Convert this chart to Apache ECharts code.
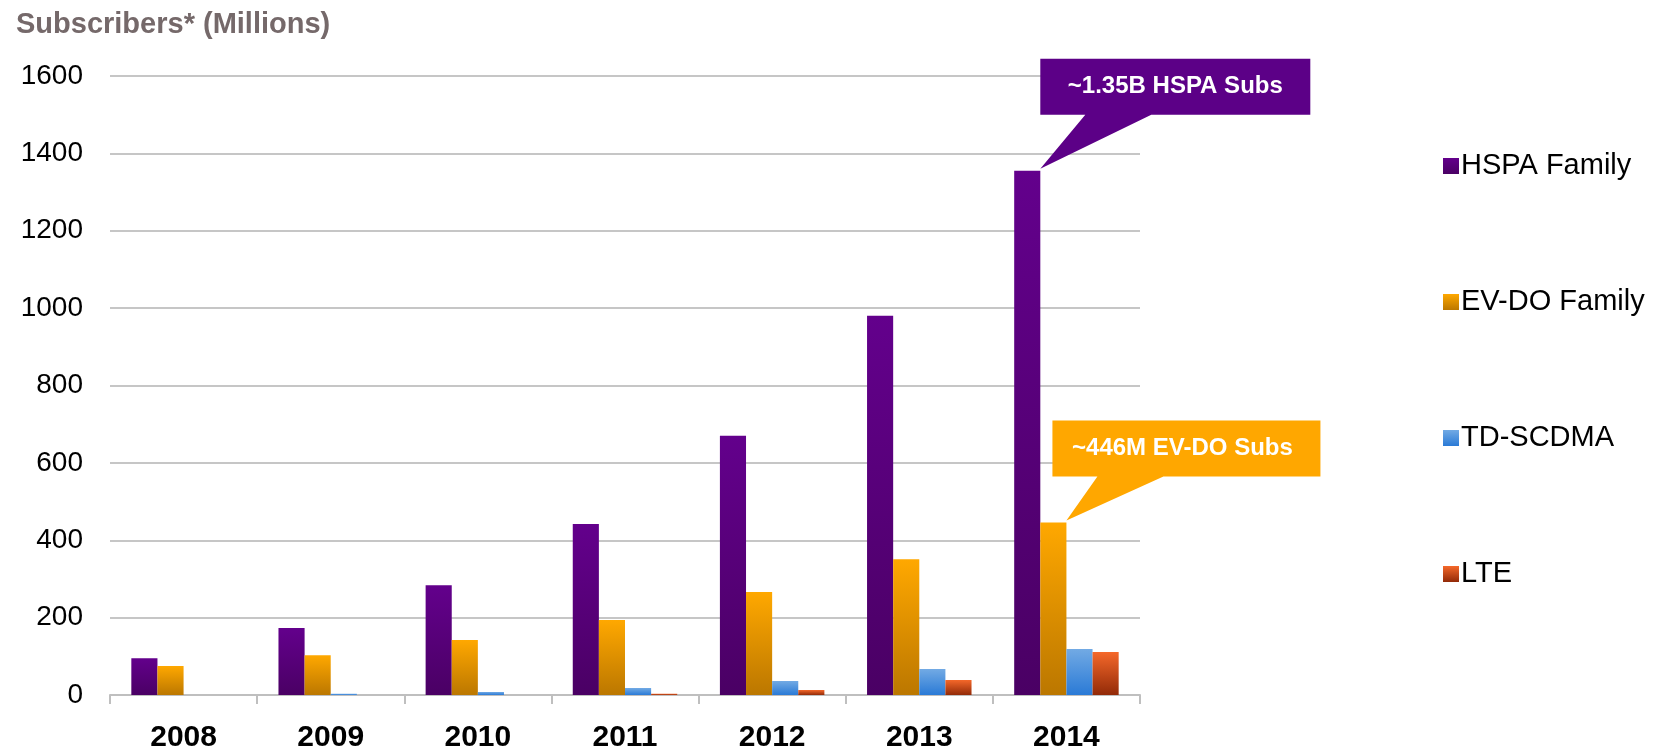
<!DOCTYPE html>
<html>
<head>
<meta charset="utf-8">
<script src="https://cdn.jsdelivr.net/npm/echarts@6/dist/echarts.min.js"></script>
<style>html,body{margin:0;padding:0;background:#fff}#c{width:1666px;height:753px}</style>
</head>
<body>
<div id="c"></div>
<script>
const years = ['2008','2009','2010','2011','2012','2013','2014'];
const hspa  = [95, 173, 284, 442, 670, 980, 1355];
const evdo  = [75, 103, 142, 194, 266, 351, 446];
const tdscdma = [0, 3, 8, 18, 36, 67, 119];
const lte   = [0, 0, 0, 3, 13, 39, 111];
const yTicks = {min: 0, max: 1600, interval: 200};
const seriesNames = ['HSPA Family', 'EV-DO Family', 'TD-SCDMA', 'LTE'];
const callouts = [
  {series: 0, index: 6, text: '~1.35B HSPA Subs', color: '#5c0087'},
  {series: 1, index: 6, text: '~446M EV-DO Subs', color: '#ffa700'}
];

const FONT = 'Arial, "Liberation Sans", sans-serif';
function grad(top, bottom) {
  return new echarts.graphic.LinearGradient(0, 0, 0, 1, [
    {offset: 0, color: top}, {offset: 1, color: bottom}
  ]);
}
const colors = [
  grad('#63008c', '#4a0064'),
  grad('#ffa800', '#bb7700'),
  grad('#72aae4', '#2a7ad6'),
  grad('#f5682a', '#922a08')
];
const dataArr = [hspa, evdo, tdscdma, lte];

const chart = echarts.init(document.getElementById('c'), null, {renderer: 'canvas'});
const option = {
  animation: false,
  backgroundColor: '#fff',
  title: {
    text: 'Subscribers* (Millions)',
    left: 11, top: 5,
    textStyle: {fontFamily: FONT, fontSize: 29, fontWeight: 'bold', color: '#75696a'}
  },
  legend: {
    orient: 'vertical',
    left: 1438, top: 146,
    itemWidth: 16, itemHeight: 16,
    itemGap: 106,
    icon: 'rect',
    textStyle: {fontFamily: FONT, fontSize: 29, color: '#000', lineHeight: 30, padding: [0,0,0,-3]},
    data: seriesNames
  },
  grid: {left: 110, right: 526, top: 76, bottom: 58, outerBoundsMode: 'none', containLabel: false},
  xAxis: {
    type: 'category',
    data: years,
    axisLine: {show: true, lineStyle: {color: '#bfbfbf', width: 2}},
    axisTick: {show: true, length: 9, interval: 0, lineStyle: {color: '#bfbfbf', width: 2}},
    axisLabel: {fontFamily: FONT, fontSize: 30, fontWeight: 'bold', color: '#000', margin: 28, interval: 0}
  },
  yAxis: {
    type: 'value',
    min: yTicks.min, max: yTicks.max, interval: yTicks.interval,
    axisLine: {show: false},
    axisTick: {show: false},
    axisLabel: {fontFamily: FONT, fontSize: 28, color: '#000', margin: 27, formatter: v => String(v)},
    splitLine: {lineStyle: {color: '#c6c6c6', width: 2}}
  },
  series: seriesNames.map((n, i) => ({
    name: n,
    type: 'bar',
    data: dataArr[i],
    barGap: '0%',
    barCategoryGap: '29%',
    itemStyle: {color: colors[i]}
  }))
};
chart.setOption(option);

// Callouts anchored to bar tops
function barLayout(si, idx) {
  try {
    const s = chart.getModel().getSeriesByIndex(si);
    return s.getData().getItemLayout(idx);
  } catch (e) { return null; }
}
const graphics = [];
callouts.forEach((c, k) => {
  const L = barLayout(c.series, c.index);
  if (!L) return;
  const tipX = L.x + L.width;
  const tipY = Math.min(L.y, L.y + L.height) - 2;
  let bx0, bx1, by0, by1, p0, p1;
  if (k === 0) {
    bx0 = tipX; bx1 = tipX + 270; by0 = tipY - 110; by1 = tipY - 54;
    p0 = tipX + 45; p1 = tipX + 111;
  } else {
    bx0 = tipX - 14; bx1 = tipX + 254; by0 = tipY - 100; by1 = tipY - 44;
    p0 = tipX + 31; p1 = tipX + 97;
  }
  graphics.push({
    type: 'polygon',
    z: 100,
    shape: {points: [[bx0, by0], [bx1, by0], [bx1, by1], [p1, by1], [tipX, tipY], [p0, by1], [bx0, by1]]},
    style: {fill: c.color}
  });
  graphics.push({
    type: 'text',
    z: 101,
    x: (bx0 + bx1) / 2 - (k === 1 ? 4 : 0),
    y: (by0 + by1) / 2,
    style: {text: c.text, fill: '#fff', fontFamily: FONT, fontSize: 24, fontWeight: 'bold', align: 'center', verticalAlign: 'middle'}
  });
});
chart.setOption({graphic: graphics});
</script>
</body>
</html>
